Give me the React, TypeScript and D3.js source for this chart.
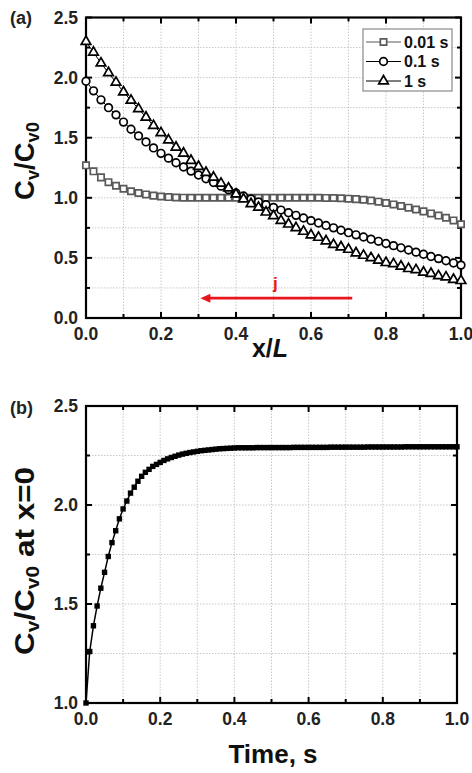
import React from "react";
import * as d3 from "d3";

// ---------- data ----------
const X_POS: number[] = d3.range(0, 51).map((i) => +(i * 0.02).toFixed(2));
const SERIES_NAMES = ["0.01 s", "0.1 s", "1 s"];
const C_001: number[] = [
  1.27, 1.22, 1.17, 1.13, 1.1, 1.075, 1.055, 1.04, 1.028, 1.018, 1.011, 1.006, 1.003, 1.001,
  1.0, 1.0, 1.0, 1.0, 1.0, 1.0, 1.0, 1.0, 1.0, 1.0, 1.0, 1.0, 1.0, 1.0, 1.0, 1.0, 1.0, 1.0,
  0.999, 0.998, 0.996, 0.993, 0.989, 0.984, 0.977, 0.968, 0.957, 0.945, 0.932, 0.918, 0.903,
  0.887, 0.87, 0.852, 0.834, 0.812, 0.78,
];
const C_01: number[] = [
  1.97, 1.89, 1.815, 1.75, 1.69, 1.63, 1.57, 1.515, 1.465, 1.415, 1.37, 1.33, 1.292, 1.256,
  1.222, 1.19, 1.158, 1.127, 1.097, 1.068, 1.04, 1.015, 0.99, 0.965, 0.942, 0.92, 0.898,
  0.876, 0.854, 0.832, 0.81, 0.79, 0.77, 0.75, 0.73, 0.71, 0.692, 0.674, 0.656, 0.638, 0.62,
  0.602, 0.584, 0.566, 0.548, 0.53, 0.512, 0.494, 0.476, 0.458, 0.44,
];
const C_1: number[] = [
  2.3, 2.21, 2.12, 2.04, 1.96, 1.88, 1.81, 1.74, 1.67, 1.6, 1.54, 1.48, 1.42, 1.37, 1.31,
  1.26, 1.21, 1.17, 1.12, 1.08, 1.03, 0.99, 0.95, 0.92, 0.88, 0.85, 0.81, 0.78, 0.75, 0.72,
  0.69, 0.67, 0.64, 0.61, 0.59, 0.57, 0.54, 0.52, 0.5, 0.48, 0.46, 0.45, 0.43, 0.41, 0.4,
  0.38, 0.37, 0.35, 0.34, 0.32, 0.31,
];
const T_POS: number[] = d3.range(0, 101).map((i) => +(i * 0.01).toFixed(2));
const C_X0: number[] = [
  1.0, 1.26, 1.39, 1.49, 1.58, 1.66, 1.74, 1.81, 1.87, 1.93, 1.98, 2.02, 2.06, 2.09, 2.12,
  2.145, 2.165, 2.18, 2.195, 2.205, 2.215, 2.225, 2.233, 2.24, 2.246, 2.252, 2.257, 2.261,
  2.265, 2.268, 2.271, 2.274, 2.276, 2.278, 2.28, 2.282, 2.284, 2.285, 2.286, 2.287, 2.288,
  2.289, 2.289, 2.289, 2.289, 2.289,
  2.29, 2.29, 2.29, 2.29, 2.29, 2.29, 2.29, 2.29, 2.29, 2.29,
  2.291, 2.291, 2.291, 2.291, 2.291, 2.291, 2.291, 2.291, 2.291, 2.291,
  2.292, 2.292, 2.292, 2.292, 2.292, 2.292, 2.292, 2.292, 2.292, 2.292,
  2.293, 2.293, 2.293, 2.293, 2.293, 2.293, 2.293, 2.293, 2.293, 2.293,
  2.294, 2.294, 2.294, 2.294, 2.294, 2.294, 2.294, 2.294, 2.294, 2.294, 2.294, 2.294, 2.294,
  2.294, 2.294,
];
const X_TICKS = [0, 0.2, 0.4, 0.6, 0.8, 1.0];
const Y_TICKS_A = [0, 0.5, 1.0, 1.5, 2.0, 2.5];
const Y_TICKS_B = [1.0, 1.5, 2.0, 2.5];

const FONT = "Arial, 'Liberation Sans', Helvetica, sans-serif";

type Frame = { x: d3.ScaleLinear<number, number>; y: d3.ScaleLinear<number, number> };

function Axes({ x, y, xMinor, yMinor, yTicks }: Frame & { xMinor: number[]; yMinor: number[]; yTicks: number[] }) {
  const [x0, x1] = x.range();
  const [y0, y1] = y.range();
  const fmt = d3.format(".1f");
  const xMaj = X_TICKS;
  return (
    <g>
      {xMinor.map((v, i) => (
        <line key={"gx" + i} x1={x(v)} x2={x(v)} y1={y0} y2={y1} stroke="#c8c8c8" strokeWidth={1} strokeDasharray="1.5,1.5" />
      ))}
      {yMinor.map((v, i) => (
        <line key={"gy" + i} x1={x0} x2={x1} y1={y(v)} y2={y(v)} stroke="#c8c8c8" strokeWidth={1} strokeDasharray="1.5,1.5" />
      ))}
      {xMinor.map((v, i) => {
        const major = xMaj.some((m) => Math.abs(m - v) < 1e-6);
        const L = major ? 6 : 4;
        return (
          <g key={"tx" + i}>
            <line x1={x(v)} x2={x(v)} y1={y0} y2={y0 - L} stroke="#000" strokeWidth={2} />
            <line x1={x(v)} x2={x(v)} y1={y1} y2={y1 + L} stroke="#000" strokeWidth={2} />
          </g>
        );
      })}
      {yMinor.map((v, i) => {
        const major = yTicks.some((m) => Math.abs(m - v) < 1e-6);
        const L = major ? 6 : 4;
        return (
          <g key={"ty" + i}>
            <line x1={x0} x2={x0 + L} y1={y(v)} y2={y(v)} stroke="#000" strokeWidth={2} />
            <line x1={x1} x2={x1 - L} y1={y(v)} y2={y(v)} stroke="#000" strokeWidth={2} />
          </g>
        );
      })}
      <rect x={x0} y={y1} width={x1 - x0} height={y0 - y1} fill="none" stroke="#000" strokeWidth={2.2} />
      {xMaj.map((v, i) => (
        <text key={"lx" + i} x={x(v)} y={y0 + 22} textAnchor="middle" fontFamily={FONT} fontWeight="bold" fontSize={17.5} fill="#222">
          {fmt(v)}
        </text>
      ))}
      {yTicks.map((v, i) => (
        <text key={"ly" + i} x={x0 - 8} y={y(v) + 6} textAnchor="end" fontFamily={FONT} fontWeight="bold" fontSize={17.5} fill="#222">
          {fmt(v)}
        </text>
      ))}
    </g>
  );
}

export default function App() {
  const xa = d3.scaleLinear().domain([0, 1]).range([86, 461]);
  const ya = d3.scaleLinear().domain([0, 2.5]).range([318, 17.5]);
  const xb = d3.scaleLinear().domain([0, 1]).range([86, 457]);
  const yb = d3.scaleLinear().domain([1, 2.5]).range([703, 406]);

  const xMinor = d3.range(0, 11).map((i) => i / 10);
  const yMinorA = d3.range(0, 11).map((i) => i * 0.25);
  const yMinorB = d3.range(0, 7).map((i) => 1 + i * 0.25);

  const seriesA = [
    { name: SERIES_NAMES[0], vals: C_001, color: "#5a5a5a", sym: d3.symbolSquare, size: 40 },
    { name: SERIES_NAMES[1], vals: C_01, color: "#000", sym: d3.symbolCircle, size: 46 },
    { name: SERIES_NAMES[2], vals: C_1, color: "#000", sym: d3.symbolTriangle, size: 40 },
  ];

  const lineA = d3
    .line<number>()
    .x((_, i) => xa(X_POS[i]))
    .y((d) => ya(d));
  const lineB = d3
    .line<number>()
    .x((_, i) => xb(T_POS[i]))
    .y((d) => yb(d));

  const red = "#e8161b";
  const arrowY = ya(0.165);

  return (
    <svg width={472} height={773} style={{ position: "absolute", left: 0, top: 0, background: "#fff" }}>
      <rect width={472} height={773} fill="#fff" />
      {/* ---------- panel (a) ---------- */}
      <text x={10} y={24} fontFamily={FONT} fontWeight="bold" fontSize={18} fill="#222">(a)</text>
      <Axes x={xa} y={ya} xMinor={xMinor} yMinor={yMinorA} yTicks={Y_TICKS_A} />
      {seriesA.map((s) => (
        <g key={s.name}>
          <path d={lineA(s.vals) || ""} fill="none" stroke={s.color} strokeWidth={1} />
          {s.vals.map((v, i) => (
            <path
              key={i}
              d={d3.symbol(s.sym, s.size)() || ""}
              transform={`translate(${xa(X_POS[i])},${ya(v)})`}
              fill="#fff"
              stroke={s.color}
              strokeWidth={1.7}
            />
          ))}
        </g>
      ))}
      {/* current arrow */}
      <line x1={xa(0.71)} x2={xa(0.305) + 8} y1={arrowY} y2={arrowY} stroke={red} strokeWidth={2.6} />
      <path d={`M${xa(0.305)},${arrowY} l10,-4.5 l0,9 z`} fill={red} />
      <text x={xa(0.505)} y={arrowY - 9} textAnchor="middle" fontFamily={FONT} fontWeight="bold" fontSize={17} fill={red}>j</text>
      {/* legend */}
      <rect x={363} y={29} width={89} height={62} fill="#fff" stroke="#8a8a8a" strokeWidth={1.2} />
      {seriesA.map((s, i) => {
        const ly = 42 + i * 19.5;
        return (
          <g key={"lg" + i}>
            <line x1={366} x2={401} y1={ly} y2={ly} stroke={s.color} strokeWidth={1.2} />
            <path d={d3.symbol(s.sym, s.size)() || ""} transform={`translate(383.5,${ly})`} fill="#fff" stroke={s.color} strokeWidth={1.7} />
            <text x={404} y={ly + 5.5} fontFamily={FONT} fontWeight="bold" fontSize={16} fill="#111">{s.name}</text>
          </g>
        );
      })}
      {/* axis titles (a) */}
      <text x={270} y={357} textAnchor="middle" fontFamily={FONT} fontWeight="bold" fontSize={25} fill="#111">
        x/<tspan fontStyle="italic">L</tspan>
      </text>
      <text transform="translate(34,161) rotate(-90)" textAnchor="middle" fontFamily={FONT} fontWeight="bold" fontSize={27} fill="#111" textLength={78} lengthAdjust="spacingAndGlyphs">
        C<tspan fontSize={18} dy={5}>v</tspan><tspan dy={-5}>/C</tspan><tspan fontSize={18} dy={5}>v0</tspan>
      </text>

      {/* ---------- panel (b) ---------- */}
      <text x={10} y={414} fontFamily={FONT} fontWeight="bold" fontSize={18} fill="#222">(b)</text>
      <Axes x={xb} y={yb} xMinor={xMinor} yMinor={yMinorB} yTicks={Y_TICKS_B} />
      <path d={lineB(C_X0) || ""} fill="none" stroke="#000" strokeWidth={1.5} />
      {C_X0.map((v, i) => (
        <rect key={"b" + i} x={xb(T_POS[i]) - 2.7} y={yb(v) - 2.7} width={5.4} height={5.4} fill="#000" />
      ))}
      <text x={273} y={763} textAnchor="middle" fontFamily={FONT} fontWeight="bold" fontSize={26} fill="#111">Time, s</text>
      <text transform="translate(34,561) rotate(-90)" textAnchor="middle" fontFamily={FONT} fontWeight="bold" fontSize={27} fill="#111" textLength={188} lengthAdjust="spacingAndGlyphs">
        C<tspan fontSize={18} dy={5}>v</tspan><tspan dy={-5}>/C</tspan><tspan fontSize={18} dy={5}>v0</tspan><tspan dy={-5}> at x=0</tspan>
      </text>
    </svg>
  );
}
